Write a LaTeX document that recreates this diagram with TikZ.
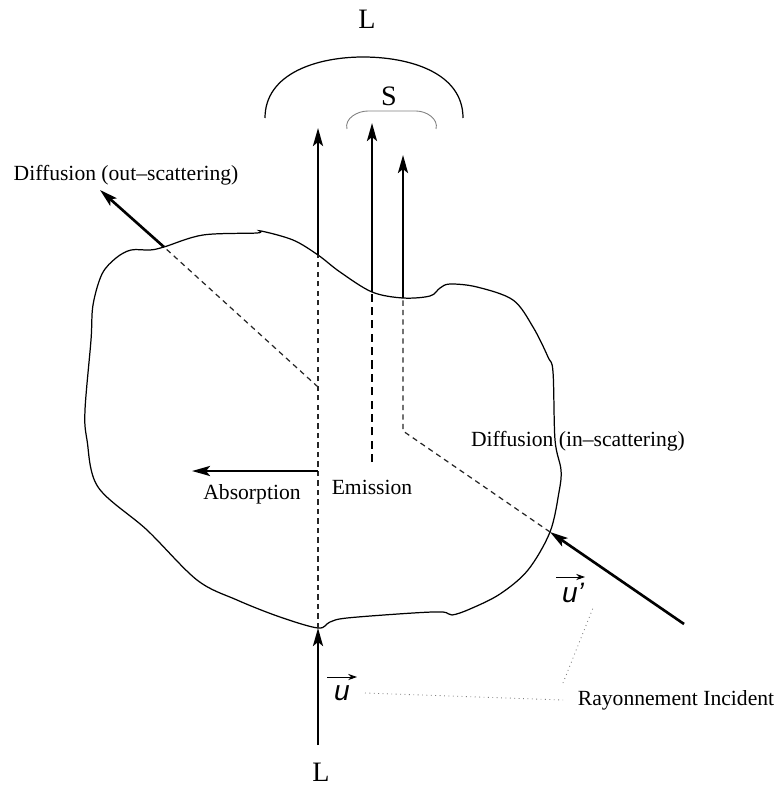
\documentclass[tikz,border=0pt]{standalone}
\usepackage{fontspec}
\setmainfont{Liberation Serif}
\newfontfamily\vecfont{Liberation Sans}
\usepackage{tikz}
\usetikzlibrary{arrows.meta, calc}
\usetikzlibrary{positioning}

\begin{document}
\begin{tikzpicture}[x=0.02cm, y=-0.02cm,
    font=\fontsize{12.3}{14}\selectfont,
    ray/.style={line width=1.5pt, -{Stealth[length=0.36cm, width=0.2cm, inset=0.08cm]}},
    trace/.style={line width=0.7pt, black!85, dash pattern=on 3pt off 2.4pt},
    emtrace/.style={line width=1.7pt, dash pattern=on 4.6pt off 3pt},
    leader/.style={line width=0.5pt, gray, dotted},
    vecarr/.style={line width=0.5pt, -{Stealth[length=5pt, width=3.5pt]}},
    bigletter/.style={font=\fontsize{16}{18}\selectfont}]
    \useasboundingbox (0,0) rectangle (775,787);

    % points on the volume and ends of the rays
    \coordinate (outB) at (164,247);
    \coordinate (outT) at (100,190);
    \coordinate (outK) at (318,387);
    \coordinate (lB) at (318,255);
    \coordinate (lT) at (318,128);
    \coordinate (absK) at (318,471);
    \coordinate (absT) at (192,471);
    \coordinate (emK) at (372,462);
    \coordinate (emB) at (372,292);
    \coordinate (emT) at (372,123);
    \coordinate (scK) at (403,431);
    \coordinate (scB) at (403,298);
    \coordinate (scT) at (403,155);
    \coordinate (scE) at (550,532);
    \coordinate (scS) at (684,624);
    \coordinate (inB) at (318,628);
    \coordinate (inS) at (318,745);

    % the volume
    \draw[line width=0.7pt] plot[smooth cycle, tension=0.55] coordinates {
        (93,305) (102,274) (116,258) (131,250) (150,250) (outB) (203,235)
        (257,233) (261,231) (293,240) (lB) (340,272) (emB) (scB) (430,296)
        (440,288) (450,284) (477,287) (513,300) (533,327) (548,357) (553,372)
        (555,440) (561,470) (559,492) (scE) (528,570) (500,594) (470,609)
        (452,615) (443,612) (413,613) (347,618) (330,622) (inB) (280,617)
        (237,600) (197,580) (147,530) (98,487) (87,440) (85,410) (91,340)};

    % brackets
    \draw[line width=0.7pt] (265,118) to[out=90, in=180] (363,57) to[out=0, in=90] (463,118);
    \draw[line width=0.5pt, gray] (347,129) to[out=105, in=180] (368,111) -- (416,111) to[out=0, in=75] (436,129);

    % rays
    \draw[trace] (inB) -- (lB);
    \draw[trace] (outK) -- (outB);
    \draw[trace] (scE) -- (scK) -- (scB);
    \draw[emtrace] (emK) -- (emB);
    \draw[ray] (inS) -- (inB);
    \draw[ray] (lB) -- (lT);
    \draw[ray] (emB) -- (emT);
    \draw[ray] (scB) -- (scT);
    \draw[ray] (outB) -- (outT);
    \draw[ray] (absK) -- (absT);
    \draw[ray] (scS) -- (scE);

    % labels
    \node[bigletter] (Ltop) at (367,19) {L};
    \node[bigletter] (S) at (389,96) {S};
    \node[bigletter] (Lbot) at (321,772) {L};
    \node (outlab) at (126,175) {Diffusion (out–scattering)};
    \node (ablab) at (252,494) {Absorption};
    \node (emlab) at (372,487) {Emission};
    \node (inlab) at (578,441) {Diffusion (in–scattering)};
    \node (raylab) at (676,700) {Rayonnement Incident};
    \node[anchor=base, font=\fontsize{16}{18}\selectfont\vecfont\itshape] (u) at (342,700) {u};
    \node[anchor=base, font=\fontsize{16}{18}\selectfont\vecfont\itshape] (up) at (573,602) {u’};
    \draw[vecarr] ([xshift=-0.3cm, yshift=0.46cm]u.base) -- ([xshift=0.3cm, yshift=0.46cm]u.base);
    \draw[vecarr] ([xshift=-0.34cm, yshift=0.5cm]up.base) -- ([xshift=0.24cm, yshift=0.5cm]up.base);

    % leaders
    \coordinate (dA) at (365,693);
    \coordinate (dB) at (563,700);
    \coordinate (dC) at (563,683);
    \coordinate (dD) at (593,608);
    \draw[leader] (dA) -- (dB);
    \draw[leader] (dC) -- (dD);
\end{tikzpicture}
\end{document}
